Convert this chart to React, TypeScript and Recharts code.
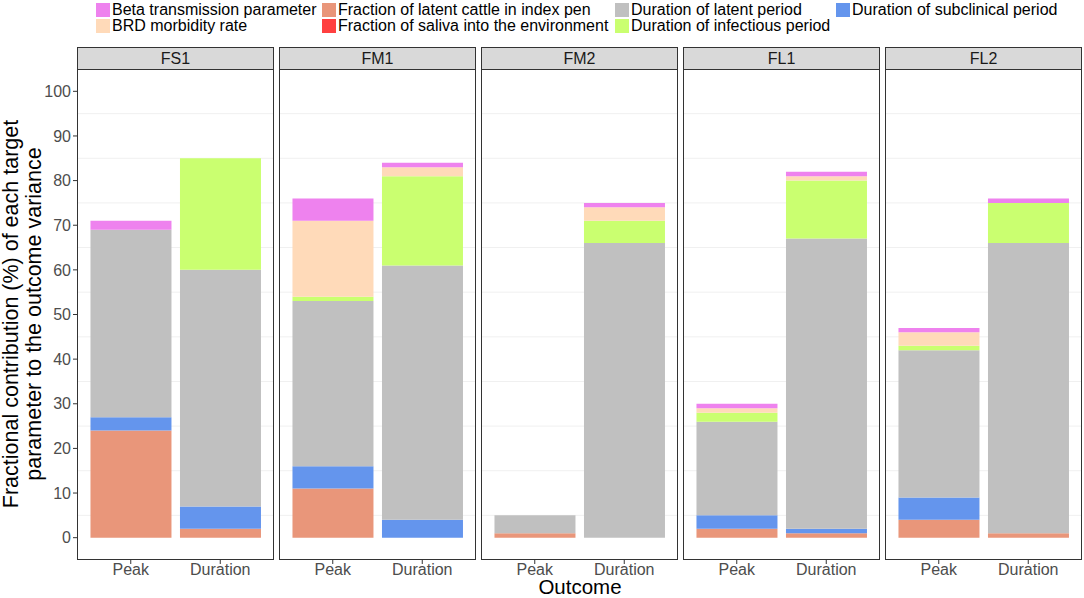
import React from 'react';
import { BarChart, Bar, XAxis, YAxis, CartesianGrid } from 'recharts';

// facets and outcomes (values are listed panel by panel: Peak, Duration)
const panels = ['FS1', 'FM1', 'FM2', 'FL1', 'FL2'];
const outcomes = ['Peak', 'Duration'];

const latentCattle = [24, 2, 11, 0, 1, 0, 2, 1, 4, 1];
const subclinical = [3, 5, 5, 4, 0, 0, 3, 1, 5, 0];
const latentPeriod = [42, 53, 37, 57, 4, 66, 21, 65, 33, 65];
const saliva = [0, 0, 0, 0, 0, 0, 0, 0, 0, 0];
const infectious = [0, 25, 1, 20, 0, 5, 2, 13, 1, 9];
const brd = [0, 0, 17, 2, 0, 3, 1, 1, 3, 0];
const beta = [2, 0, 5, 1, 0, 1, 1, 1, 1, 1];

const yTicks = [0, 10, 20, 30, 40, 50, 60, 70, 80, 90, 100];
const minorGrid = [5, 15, 25, 35, 45, 55, 65, 75, 85, 95];

const series = [
  { key: 'latentCattle', name: 'Fraction of latent cattle in index pen', values: latentCattle, color: '#E9967A' },
  { key: 'subclinical', name: 'Duration of subclinical period', values: subclinical, color: '#6495ED' },
  { key: 'latentPeriod', name: 'Duration of latent period', values: latentPeriod, color: '#C0C0C0' },
  { key: 'saliva', name: 'Fraction of saliva into the environment', values: saliva, color: '#FF4040' },
  { key: 'infectious', name: 'Duration of infectious period', values: infectious, color: '#CAFF70' },
  { key: 'brd', name: 'BRD morbidity rate', values: brd, color: '#FFDAB9' },
  { key: 'beta', name: 'Beta transmission parameter', values: beta, color: '#EE82EE' },
];

const legendRows = [
  ['beta', 'latentCattle', 'latentPeriod', 'subclinical'],
  ['brd', 'saliva', 'infectious'],
];
const legendX = [96, 322, 615, 836];

const FONT = '"Liberation Sans", Arial, sans-serif';
const PANEL_TOP = 69;
const PANEL_H = 491;
const PANEL_W = 197;
const PANEL_STEP = 202;
const Y_AXIS_W = 77;

const panelData = (p: number) =>
  outcomes.map((o, j) => {
    const row: Record<string, number | string> = { outcome: o };
    series.forEach((s) => {
      row[s.key] = s.values[p * 2 + j];
    });
    return row;
  });

const Panel: React.FC<{ index: number }> = ({ index }) => {
  const first = index === 0;
  const left = Y_AXIS_W + index * PANEL_STEP;
  return (
    <>
      <div
        style={{
          position: 'absolute',
          left,
          top: 47,
          width: PANEL_W,
          height: 23,
          boxSizing: 'border-box',
          border: '1px solid #333',
          background: '#d9d9d9',
          color: '#1a1a1a',
          fontSize: 16,
          lineHeight: '21px',
          textAlign: 'center',
        }}
      >
        {panels[index]}
      </div>
      <div style={{ position: 'absolute', left: first ? 0 : left, top: PANEL_TOP }}>
        <BarChart
          width={first ? PANEL_W + Y_AXIS_W : PANEL_W}
          height={PANEL_H + 28}
          data={panelData(index)}
          margin={{ top: 0, right: 0, bottom: 0, left: 0 }}
          barCategoryGap="5%"
        >
          <CartesianGrid vertical={false} horizontalValues={minorGrid} stroke="#f0f0f0" />
          <XAxis
            dataKey="outcome"
            height={28}
            padding={{ left: 9, right: 9 }}
            axisLine={false}
            tickSize={4}
            tickMargin={0}
            tickLine={{ stroke: '#333' }}
            tick={{ fill: '#4d4d4d', fontSize: 16, fontFamily: FONT }}
          />
          <YAxis
            hide={!first}
            width={Y_AXIS_W}
            type="number"
            domain={[-5, 105]}
            ticks={yTicks}
            interval={0}
            axisLine={false}
            tickSize={4}
            tickMargin={2}
            tickLine={{ stroke: '#333' }}
            tick={{ fill: '#4d4d4d', fontSize: 16, fontFamily: FONT }}
          />
          {series.map((s) => (
            <Bar
              key={s.key}
              dataKey={s.key}
              name={s.name}
              stackId="a"
              fill={s.color}
              isAnimationActive={false}
            />
          ))}
        </BarChart>
      </div>
      <div
        style={{
          position: 'absolute',
          left,
          top: PANEL_TOP,
          width: PANEL_W,
          height: PANEL_H,
          boxSizing: 'border-box',
          border: '1px solid #333',
          pointerEvents: 'none',
        }}
      />
    </>
  );
};

const App: React.FC = () => {
  const byKey = Object.fromEntries(series.map((s) => [s.key, s]));
  return (
    <div
      style={{
        position: 'absolute',
        left: 0,
        top: 0,
        width: 1084,
        height: 598,
        background: '#fff',
        fontFamily: FONT,
        overflow: 'hidden',
      }}
    >
      {legendRows.map((row, r) =>
        row.map((k, c) => (
          <div
            key={k}
            style={{ position: 'absolute', left: legendX[c], top: 2 + r * 16, display: 'flex', alignItems: 'center' }}
          >
            <div style={{ width: 14, height: 14, background: byKey[k].color, marginRight: 2 }} />
            <span style={{ fontSize: 16, lineHeight: '15px', color: '#000', whiteSpace: 'nowrap' }}>
              {byKey[k].name}
            </span>
          </div>
        ))
      )}
      {panels.map((p, i) => (
        <Panel key={p} index={i} />
      ))}
      <svg width={1084} height={598} style={{ position: 'absolute', left: 0, top: 0, pointerEvents: 'none' }}>
        <text
          transform="translate(0 314) rotate(-90)"
          textAnchor="middle"
          fontSize={21.5}
          fontFamily={FONT}
          fill="#000"
        >
          <tspan x={0} dy={17.5}>Fractional contribution (%) of each target</tspan>
          <tspan x={0} dy={23}>parameter to the outcome variance</tspan>
        </text>
        <text x={580} y={594} textAnchor="middle" fontSize={20.5} fontFamily={FONT} fill="#000">
          Outcome
        </text>
      </svg>
    </div>
  );
};

export default App;
